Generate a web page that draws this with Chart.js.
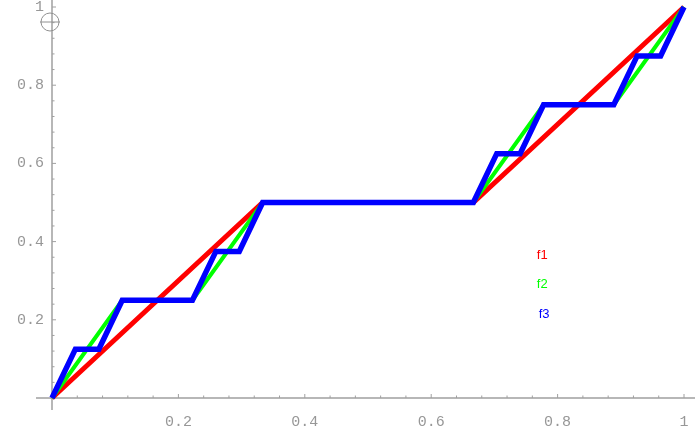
<!DOCTYPE html>
<html>
<head>
<meta charset="utf-8">
<script src="https://cdn.jsdelivr.net/npm/chart.js@4"></script>
<style>
  html, body { margin: 0; padding: 0; background: #fff; }
  #wrap { width: 695px; height: 438px; }
</style>
</head>
<body>
<div id="wrap"><canvas id="cantor"></canvas></div>
<script>
// Cantor function approximations
const f1X = [0, 0.3333, 0.6667, 1];
const f1Y = [0, 0.5, 0.5, 1];
const f2X = [0, 0.1111, 0.2222, 0.3333, 0.6667, 0.7778, 0.8889, 1];
const f2Y = [0, 0.25, 0.25, 0.5, 0.5, 0.75, 0.75, 1];
const f3X = [0, 0.0370, 0.0741, 0.1111, 0.2222, 0.2593, 0.2963, 0.3333,
             0.6667, 0.7037, 0.7407, 0.7778, 0.8889, 0.9259, 0.9630, 1];
const f3Y = [0, 0.125, 0.125, 0.25, 0.25, 0.375, 0.375, 0.5,
             0.5, 0.625, 0.625, 0.75, 0.75, 0.875, 0.875, 1];
const seriesNames = ['f1', 'f2', 'f3'];
const majorTicks = [0.2, 0.4, 0.6, 0.8, 1];

const toPoints = (xs, ys) => xs.map((x, i) => ({ x: x, y: ys[i] }));
const tickLabel = v => {
    const k = Math.round(v * 100);
    if (k === 0 || k % 20 !== 0) return '';
    return k === 100 ? '1' : (k / 100).toFixed(1);
};

const axisColor = '#a0a0a0';

// axes with inward ticks, Mathematica style
const axesPlugin = {
    id: 'axes',
    beforeDatasetsDraw(chart) {
        const { ctx, chartArea, scales } = chart;
        const x0 = scales.x.getPixelForValue(0);
        const y0 = scales.y.getPixelForValue(0);
        ctx.save();
        ctx.strokeStyle = axisColor;
        ctx.lineWidth = 1.5;
        ctx.beginPath();
        ctx.moveTo(chartArea.left - 16, y0);
        ctx.lineTo(chart.width, y0);
        ctx.moveTo(x0, 0);
        ctx.lineTo(x0, y0 + 12);
        ctx.stroke();
        ctx.lineWidth = 1;
        ctx.beginPath();
        scales.x.ticks.forEach(t => {
            const px = scales.x.getPixelForValue(t.value);
            const len = tickLabel(t.value) ? 4 : 2.5;
            ctx.moveTo(px, y0);
            ctx.lineTo(px, y0 - len);
        });
        scales.y.ticks.forEach(t => {
            const py = scales.y.getPixelForValue(t.value);
            const len = tickLabel(t.value) ? 4 : 2.5;
            ctx.moveTo(x0, py);
            ctx.lineTo(x0 + len, py);
        });
        ctx.stroke();
        // the little locator glyph near the top of the y axis
        ctx.strokeStyle = '#909090';
        ctx.beginPath();
        ctx.arc(x0 - 2, 22, 9, 0, Math.PI * 2);
        ctx.moveTo(x0 - 12, 22);
        ctx.lineTo(x0 + 8, 22);
        ctx.stroke();
        ctx.restore();
    }
};

// series names written inside the plot
const namesPlugin = {
    id: 'names',
    afterDatasetsDraw(chart) {
        const { ctx, scales } = chart;
        const at = [[0.775, 0.366], [0.775, 0.292], [0.778, 0.217]];
        ctx.save();
        ctx.font = '13px "Liberation Sans Narrow", "Liberation Sans"';
        ctx.textAlign = 'left';
        ctx.textBaseline = 'middle';
        chart.data.datasets.forEach((ds, i) => {
            ctx.fillStyle = ds.borderColor;
            ctx.fillText(ds.label, scales.x.getPixelForValue(at[i][0]) - 5,
                         scales.y.getPixelForValue(at[i][1]) + 1);
        });
        ctx.restore();
    }
};

new Chart(document.getElementById('cantor').getContext('2d'), {
    type: 'line',
    data: {
        datasets: [
            { label: seriesNames[0], data: toPoints(f1X, f1Y), borderColor: '#ff0000', borderWidth: 5, order: 3 },
            { label: seriesNames[1], data: toPoints(f2X, f2Y), borderColor: '#00ff00', borderWidth: 4, order: 2 },
            { label: seriesNames[2], data: toPoints(f3X, f3Y), borderColor: '#0000ff', borderWidth: 5.5, order: 1 }
        ].map(ds => Object.assign(ds, { pointRadius: 0, tension: 0, fill: false, clip: false }))
    },
    options: {
        responsive: true,
        maintainAspectRatio: false,
        animation: false,
        events: [],
        layout: { padding: { left: 0, right: 11, top: 7, bottom: 0 } },
        plugins: {
            legend: { display: false },
            tooltip: { enabled: false }
        },
        scales: {
            x: {
                type: 'linear',
                min: 0,
                max: 1,
                grid: { display: false },
                border: { display: false },
                afterFit: s => { s.height = 40; s.paddingLeft = 0; s.paddingRight = 0; },
                ticks: {
                    stepSize: 0.04,
                    autoSkip: false,
                    maxRotation: 0,
                    padding: 7,
                    color: '#979797',
                    font: { family: '"Liberation Mono", monospace', size: 15 },
                    callback: tickLabel
                }
            },
            y: {
                type: 'linear',
                min: 0,
                max: 1,
                grid: { display: false },
                border: { display: false },
                afterFit: s => { s.width = 52; s.paddingTop = 0; s.paddingBottom = 0; },
                ticks: {
                    stepSize: 0.04,
                    autoSkip: false,
                    padding: 0,
                    color: '#979797',
                    font: { family: '"Liberation Mono", monospace', size: 15 },
                    callback: tickLabel
                }
            }
        }
    },
    plugins: [axesPlugin, namesPlugin]
});
</script>
</body>
</html>
